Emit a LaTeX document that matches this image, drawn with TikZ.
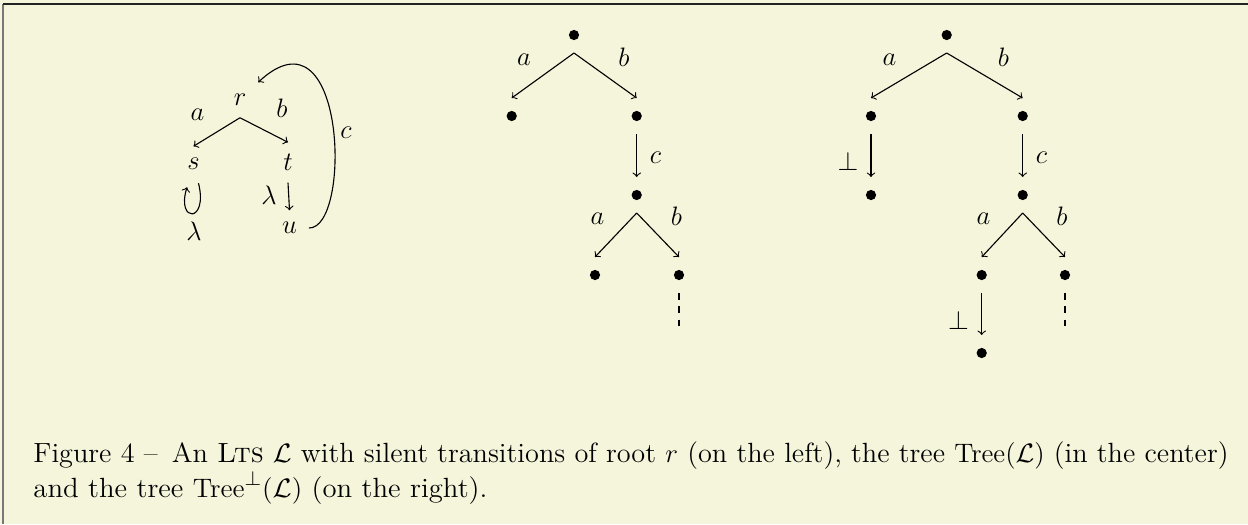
\documentclass[tikz,border=0pt]{standalone}
\usepackage{graphicx}
\usetikzlibrary{calc}
\definecolor{bgbeige}{RGB}{245,245,220}
\definecolor{frametop}{RGB}{35,35,35}
\definecolor{frameleft}{RGB}{120,120,120}
\begin{document}
\begin{tikzpicture}[x=0.45pt,y=-0.45pt,
  font=\fontsize{12.5pt}{15pt}\selectfont,
  dot/.style={circle,fill,inner sep=0pt,minimum size=4.6pt,outer sep=5.8pt},
  lts/.style={inner sep=5.2pt},
  lbl/.style={inner sep=0pt},
  arr/.style={->,line width=0.5pt},
  dashline/.style={dashed,line width=0.5pt},
  capline/.style={anchor=base west,inner sep=0pt}]
\useasboundingbox[fill=bgbeige] (0,0) rectangle (1248,524);
% frame
\coordinate (fTL) at (3.5,3.5);
\coordinate (fTR) at (1248,3.5);
\coordinate (fBL) at (3.5,524);
\draw[frameleft,line width=0.9pt] (fTL) -- (fBL);
\draw[frametop,line width=0.9pt] (fTL) -- (fTR);

% ---------- left: LTS ----------
\node[lts] (r) at (240,100) {$r$};
\node[lts] (s) at (193.5,164) {$s$};
\node[lts] (t) at (288,162.5) {$t$};
\node[lts] (u) at (289.5,228) {$u$};
\draw[arr] (r.south) -- (s.north);
\draw[arr] (r.south) -- (t.north);
\draw[arr] (t.south) -- (u.north);
\draw[arr] ($(s.south)+(5,1.5)$) .. controls ($(s.south)+(15,41.5)$) and ($(s.south)+(-17.5,41.5)$) .. ($(s.south)+(-6.5,5.5)$);
\draw[arr] (u.east) .. controls ($(u.east)+(43,1)$) and ($(r.north east)+(88,-82)$) .. (r.north east);
\node[lbl] (la) at (197.5,114.5) {$a$};
\node[lbl] (lb) at (282,108) {$b$};
\node[lbl] (lc) at (346,132.5) {$c$};
\node[lbl] (ll1) at (194,231.5) {$\lambda$};
\node[lbl] (ll2) at (269,195) {$\lambda$};

% ---------- center: Tree(L) ----------
\node[dot] (c0) at (574,35) {};
\node[dot] (c1) at (511.7,116) {};
\node[dot] (c2) at (636.7,116) {};
\node[dot] (c3) at (636.7,195) {};
\node[dot] (c4) at (595,275) {};
\node[dot] (c5) at (679,275) {};
\coordinate (c5e) at (679,333);
\draw[arr] (c0.south) -- (c1.north);
\draw[arr] (c0.south) -- (c2.north);
\draw[arr] (c2.south) -- (c3.north);
\draw[arr] (c3.south) -- (c4.north);
\draw[arr] (c3.south) -- (c5.north);
\draw[dashline] (c5.south) -- (c5e);
\node[lbl] (ca) at (524,60) {$a$};
\node[lbl] (cb) at (624,57.5) {$b$};
\node[lbl] (cc) at (655.5,157.5) {$c$};
\node[lbl] (ca2) at (597.5,219) {$a$};
\node[lbl] (cb2) at (676.5,216.5) {$b$};

% ---------- right: Tree^bot(L) ----------
\node[dot] (d0) at (946.7,35) {};
\node[dot] (d1) at (871,116) {};
\node[dot] (d2) at (1022.7,116) {};
\node[dot] (d3) at (871,195) {};
\node[dot] (d4) at (1022.7,195) {};
\node[dot] (d5) at (981.7,275) {};
\node[dot] (d6) at (1065,275) {};
\node[dot] (d7) at (981.7,353) {};
\coordinate (d6e) at (1065,333);
\draw[arr] (d0.south) -- (d1.north);
\draw[arr] (d0.south) -- (d2.north);
\draw[arr] (d1.south) -- (d3.north);
\draw[arr] (d2.south) -- (d4.north);
\draw[arr] (d4.south) -- (d5.north);
\draw[arr] (d4.south) -- (d6.north);
\draw[arr] (d5.south) -- (d7.north);
\draw[dashline] (d6.south) -- (d6e);
\node[lbl] (da) at (889.5,59.5) {$a$};
\node[lbl] (db) at (1003.5,57) {$b$};
\node[lbl] (dp1) at (848,161.5) {$\perp$};
\node[lbl] (dc) at (1041.5,157.5) {$c$};
\node[lbl] (da2) at (983.5,219) {$a$};
\node[lbl] (db2) at (1062,216.5) {$b$};
\node[lbl] (dp2) at (958.5,320) {$\perp$};

% ---------- caption ----------
\node[capline] (cap1) at (33,462) {\resizebox{537.75pt}{\height}{Figure 4 --\enspace An \textsc{Lts} $\mathcal{L}$ with silent transitions of root $r$ (on the left), the tree $\mathrm{Tree}(\mathcal{L})$ (in the center)}};
\node[capline] (cap2) at (33,497) {\resizebox{204.3pt}{\height}{and the tree $\mathrm{Tree}^{\perp}(\mathcal{L})$ (on the right).}};
\end{tikzpicture}
\end{document}
